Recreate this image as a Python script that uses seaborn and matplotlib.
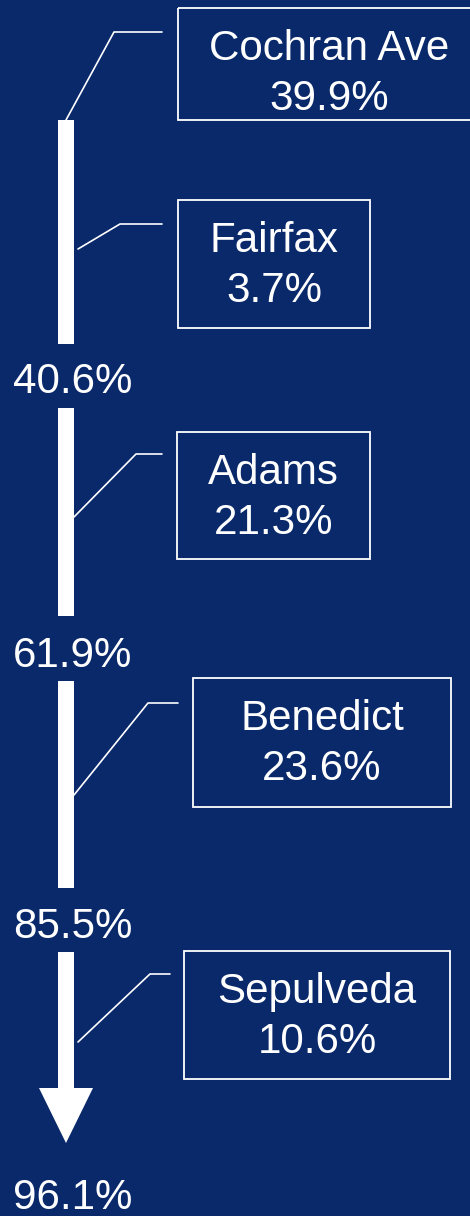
import matplotlib
matplotlib.use("Agg")
import matplotlib.pyplot as plt
import seaborn as sns
import pandas as pd

# ---- data ----
streets = ["Cochran Ave", "Fairfax", "Adams", "Benedict", "Sepulveda"]
shares = [39.9, 3.7, 21.3, 23.6, 10.6]
cumulative = [40.6, 61.9, 85.5, 96.1]
street_segment = [0, 0, 1, 2, 3]

# ---- layout (pixel-like canvas units) ----
BG = "#0a296b"
FG = "white"
W, H = 470, 1216
bar_x = 66
bar_w = 16
seg_top = [120, 408, 681, 952]
seg_bot = [344, 616, 888, 1088]
arrow_tip = 1143
arrow_half = 27
cum_label_x = 13
cum_label_base = [393, 667, 938, 1209]
boxes = [(178, 8, 480, 120), (178, 200, 370, 328), (177, 432, 370, 559),
         (193, 678, 451, 807), (184, 951, 450, 1079)]
connectors = [[(66, 120), (114, 32), (162, 32)],
              [(78, 249), (120, 224), (162, 224)],
              [(74, 517), (136, 454), (162, 454)],
              [(74, 795), (148, 703), (178, 703)],
              [(78, 1042), (150, 974), (170, 974)]]
FS = 30.3

sns.set_theme(style="white", rc={"axes.facecolor": BG, "figure.facecolor": BG})
plt.rcParams["font.family"] = ["Liberation Sans", "DejaVu Sans"]

fig = plt.figure(figsize=(W / 100, H / 100), dpi=100)
ax = fig.add_axes([0, 0, 1, 1])
ax.set_xlim(0, W)
ax.set_ylim(H, 0)
ax.axis("off")

# shaft segments
seg_df = pd.DataFrame({"x": [bar_x] * len(seg_top), "top": seg_top, "bot": seg_bot,
                       "cum": cumulative})
ax.bar(seg_df["x"], seg_df["bot"] - seg_df["top"], bottom=seg_df["top"],
       width=bar_w, color=FG, linewidth=0)

# arrow head at the last segment
last_bot = seg_bot[-1]
ax.fill([bar_x - arrow_half, bar_x + arrow_half, bar_x],
        [last_bot, last_bot, arrow_tip], color=FG, linewidth=0)

# cumulative labels
for val, yb in zip(cumulative, cum_label_base):
    ax.text(cum_label_x, yb, f"{val:.1f}%", color=FG, fontsize=FS,
            ha="left", va="baseline")

# street boxes, labels and connectors
for name, share, (x0, y0, x1, y1), conn in zip(streets, shares, boxes, connectors):
    ax.add_patch(plt.Rectangle((x0, y0), x1 - x0, y1 - y0, fill=False,
                               edgecolor=FG, linewidth=1.3))
    cx = (x0 + x1) / 2
    ax.text(cx, y0 + 52, name, color=FG, fontsize=FS, ha="center", va="baseline")
    ax.text(cx, y0 + 102, f"{share:.1f}%", color=FG, fontsize=FS,
            ha="center", va="baseline")
    xs, ys = zip(*conn)
    sns.lineplot(x=list(xs), y=list(ys), ax=ax, color=FG, linewidth=1.2,
                 sort=False, estimator=None)

fig.savefig("out.png", dpi=100, facecolor=BG)
